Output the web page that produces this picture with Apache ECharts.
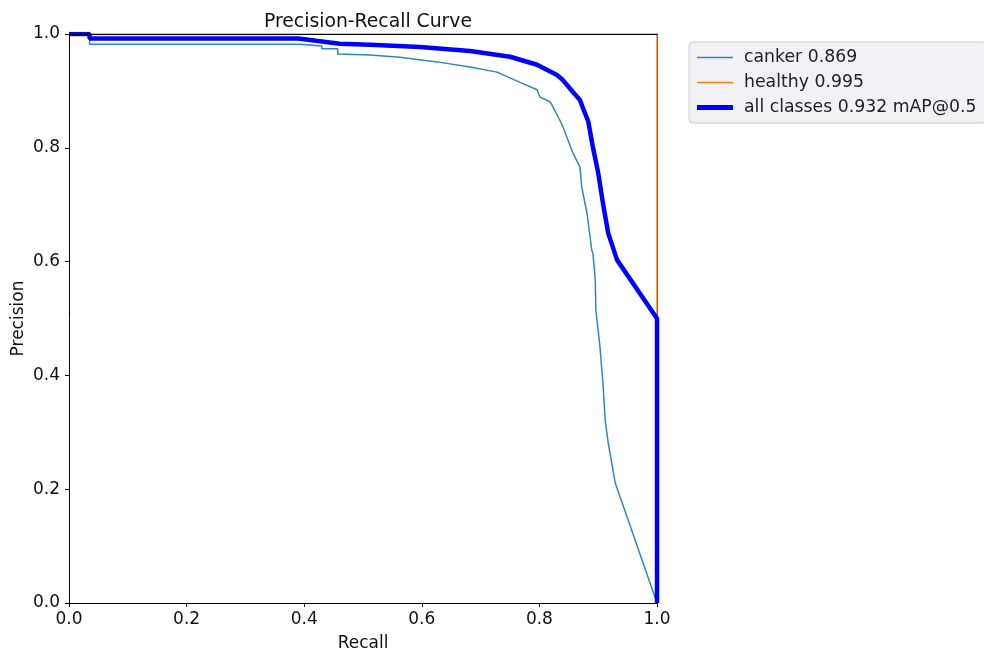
<!DOCTYPE html>
<html><head><meta charset="utf-8">
<script src="https://cdn.jsdelivr.net/npm/echarts@6/dist/echarts.min.js"></script>
<style>html,body{margin:0;padding:0;background:#fff}#c{width:984px;height:655px}</style>
</head><body><div id="c"></div>
<script>
const tickLabels = ['0.0','0.2','0.4','0.6','0.8','1.0'];
const seriesNames = ['canker 0.869','healthy 0.995','all classes 0.932 mAP@0.5'];
const cankerRecall = [0,0.035,0.035,0.393,0.393,0.43,0.43,0.457,0.457,0.512,0.563,0.626,0.682,0.728,0.767,0.796,0.801,0.818,0.823,0.835,0.840,0.857,0.869,0.872,0.881,0.889,0.891,0.895,0.896,0.903,0.908,0.912,0.917,0.929,1.0];
const cankerPrecision = [1,1,0.982,0.982,0.979,0.979,0.974,0.974,0.965,0.963,0.959,0.951,0.942,0.933,0.915,0.902,0.889,0.881,0.872,0.848,0.837,0.791,0.766,0.731,0.685,0.620,0.615,0.568,0.515,0.45,0.387,0.32,0.281,0.211,0.0];
const healthyRecall = [0,1,1];
const healthyPrecision = [1,1,0];
const allRecall = [0,0.035,0.035,0.39,0.42,0.46,0.512,0.597,0.682,0.75,0.796,0.83,0.840,0.857,0.869,0.874,0.883,0.891,0.900,0.908,0.917,0.932,1.0,1.0];
const allPrecision = [1,1,0.992,0.992,0.988,0.983,0.981,0.977,0.970,0.960,0.946,0.928,0.919,0.898,0.884,0.870,0.847,0.801,0.756,0.703,0.650,0.603,0.5,0.0];

const zip = (a,b)=>a.map((v,i)=>[v,b[i]]);
const font = 'DejaVu Sans';
const chart = echarts.init(document.getElementById('c'));
chart.setOption({
  animation:false,
  backgroundColor:'#fff',
  title:{text:'Precision-Recall Curve',left:363,top:8,textAlign:'center',
    textStyle:{fontFamily:font,fontSize:18.8,fontWeight:'normal',color:'#111'}},
  legend:{
    left:689,top:42,orient:'vertical',
    data:[
      {name:seriesNames[0],icon:'path://M0,0h36v1.5h-36z'},
      {name:seriesNames[1],icon:'path://M0,0h36v1.5h-36z'},
      {name:seriesNames[2],icon:'path://M0,0h36v5h-36z'}
    ],
    itemWidth:36,itemHeight:12,itemGap:8,
    padding:[7,10,7,8],
    backgroundColor:'rgba(240,240,245,0.9)',borderColor:'#ccc',borderWidth:1,borderRadius:4,
    textStyle:{fontFamily:font,fontSize:17.3,color:'#222',padding:[0,0,0,6]}
  },
  grid:{left:69,right:327,top:34,bottom:52,containLabel:false,outerBoundsMode:'none'},
  xAxis:[{
    type:'value',min:0,max:1,interval:0.2,
    name:'Recall',nameLocation:'middle',nameGap:32,nameMoveOverlap:false,
    nameTextStyle:{fontFamily:font,fontSize:17,color:'#111'},
    axisLine:{show:true,onZero:false,lineStyle:{color:'#000',width:1}},
    axisTick:{show:true,length:4,lineStyle:{color:'#000'}},
    axisLabel:{fontFamily:font,fontSize:17,color:'#111',margin:8,formatter:(v)=>tickLabels[Math.round(v*5)]},
    splitLine:{show:false},z:10
  },{
    type:'value',min:0,max:1,position:'top',
    axisLine:{show:true,onZero:false,lineStyle:{color:'#000',width:1}},
    axisTick:{show:false},axisLabel:{show:false},splitLine:{show:false},z:10
  }],
  yAxis:[{
    type:'value',min:0,max:1,interval:0.2,
    name:'Precision',nameLocation:'middle',nameGap:42,nameRotate:90,nameMoveOverlap:false,
    nameTextStyle:{fontFamily:font,fontSize:17,color:'#111'},
    axisLine:{show:true,onZero:false,lineStyle:{color:'#000',width:1}},
    axisTick:{show:true,length:4,lineStyle:{color:'#000'}},
    axisLabel:{fontFamily:font,fontSize:17,color:'#111',margin:9,formatter:(v)=>tickLabels[Math.round(v*5)]},
    splitLine:{show:false},z:10
  },{
    type:'value',min:0,max:1,position:'right',
    axisLine:{show:true,onZero:false,lineStyle:{color:'#000',width:1}},
    axisTick:{show:false},axisLabel:{show:false},splitLine:{show:false},z:1
  }],
  series:[
    {name:seriesNames[0],type:'line',data:zip(cankerRecall,cankerPrecision),symbol:'none',
     lineStyle:{color:'#2f86c0',width:1.5},itemStyle:{color:'#2f86c0'},z:2},
    {name:seriesNames[1],type:'line',data:zip(healthyRecall,healthyPrecision),symbol:'none',
     lineStyle:{color:'#ff7f0e',width:1.5},itemStyle:{color:'#ff7f0e'},z:3},
    {name:seriesNames[2],type:'line',data:zip(allRecall,allPrecision),symbol:'none',
     lineStyle:{color:'#0000ff',width:4.5},itemStyle:{color:'#0000ff'},z:4}
  ]
});
</script></body></html>
